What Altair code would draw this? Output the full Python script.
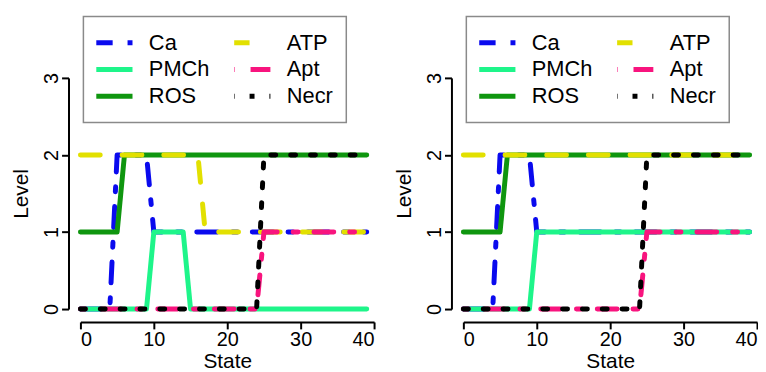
import altair as alt
import pandas as pd

states = list(range(40))

# Left panel series (level per state)
ca_left   = [0,0,0,0,0,2,2,2,2,2,1,1,1,1,1,1,1,1,1,1,1,1,1,1,1,1,1,1,1,1,1,1,1,1,1,1,1,1,1,1]
pmch_left = [0,0,0,0,0,0,0,0,0,0,1,1,1,1,1,0,0,0,0,0,0,0,0,0,0,0,0,0,0,0,0,0,0,0,0,0,0,0,0,0]
ros_left  = [1,1,1,1,1,1,2,2,2,2,2,2,2,2,2,2,2,2,2,2,2,2,2,2,2,2,2,2,2,2,2,2,2,2,2,2,2,2,2,2]
atp_left  = [2,2,2,2,2,2,2,2,2,2,2,2,2,2,2,2,2,1,1,1,1,1,1,1,1,1,1,1,1,1,1,1,1,1,1,1,1,1,1,1]
apt_left  = [0,0,0,0,0,0,0,0,0,0,0,0,0,0,0,0,0,0,0,0,0,0,0,0,0,1,1,1,1,1,1,1,1,1,1,1,1,1,1,1]
necr_left = [0,0,0,0,0,0,0,0,0,0,0,0,0,0,0,0,0,0,0,0,0,0,0,0,0,2,2,2,2,2,2,2,2,2,2,2,2,2,2,2]

# Right panel series
ca_right   = [0,0,0,0,0,2,2,2,2,2,1,1,1,1,1,1,1,1,1,1,1,1,1,1,1,1,1,1,1,1,1,1,1,1,1,1,1,1,1,1]
pmch_right = [0,0,0,0,0,0,0,0,0,0,1,1,1,1,1,1,1,1,1,1,1,1,1,1,1,1,1,1,1,1,1,1,1,1,1,1,1,1,1,1]
ros_right  = [1,1,1,1,1,1,2,2,2,2,2,2,2,2,2,2,2,2,2,2,2,2,2,2,2,2,2,2,2,2,2,2,2,2,2,2,2,2,2,2]
atp_right  = [2,2,2,2,2,2,2,2,2,2,2,2,2,2,2,2,2,2,2,2,2,2,2,2,2,2,2,2,2,2,2,2,2,2,2,2,2,2,2,2]
apt_right  = [0,0,0,0,0,0,0,0,0,0,0,0,0,0,0,0,0,0,0,0,0,0,0,0,0,1,1,1,1,1,1,1,1,1,1,1,1,1,1,1]
necr_right = [0,0,0,0,0,0,0,0,0,0,0,0,0,0,0,0,0,0,0,0,0,0,0,0,0,2,2,2,2,2,2,2,2,2,2,2,2,2,2,2]

series_names = ["Ca", "PMCh", "ROS", "ATP", "Apt", "Necr"]          # draw order = legend order (column-major)
color_map = {"Ca": "#0a0aee", "PMCh": "#1ef58a", "ROS": "#0f960f",
             "ATP": "#e2e000", "Apt": "#f8147e", "Necr": "#000000"}
dash_map = {"Ca": [21, 15, 5, 15], "PMCh": [1, 0], "ROS": [1, 0],
            "ATP": [20, 22], "Apt": [5, 16, 20, 16], "Necr": [5, 15]}

FONT = "Liberation Sans"


def make_df(cols):
    rows = []
    for name, vals in zip(series_names, cols):
        for s, v in zip(states, vals):
            rows.append({"var": name, "state": s, "level": v})
    return pd.DataFrame(rows)


def legend_spec():
    return alt.Legend(
        orient="none", legendX=3, legendY=-62, columns=2, title=None,
        gridAlign="all",
        labelFontSize=22, labelFont=FONT, labelColor="black",
        symbolType="stroke", symbolStrokeWidth=5, symbolSize=1681,
        symbolOffset=-7, clipHeight=27,
        strokeColor="#8a8a8a", fillColor="white", padding=13,
        rowPadding=0, columnPadding=24, labelOffset=14,
    )


def panel(cols):
    df = make_df(cols)
    base = alt.Chart(df)
    color = alt.Color(
        "var:N",
        scale=alt.Scale(domain=series_names, range=[color_map[k] for k in series_names]),
        legend=legend_spec(),
    )
    dash = alt.StrokeDash(
        "var:N",
        scale=alt.Scale(domain=series_names, range=[dash_map[k] for k in series_names]),
        legend=legend_spec(),
    )
    x = alt.X("state:Q", scale=alt.Scale(domain=[0, 40], nice=False, zero=False),
              axis=alt.Axis(title="State", values=[0, 10, 20, 30, 40], offset=13,
                            tickSize=7, labelPadding=1, titlePadding=1))
    y = alt.Y("level:Q", scale=alt.Scale(domain=[0, 3], nice=False),
              axis=alt.Axis(title="Level", values=[0, 1, 2, 3], offset=12,
                            tickSize=7, labelAngle=270, labelPadding=0,
                            labelAlign="center", labelBaseline="bottom",
                            titlePadding=10))
    layers = []
    for name in series_names:
        layers.append(
            base.mark_line(strokeWidth=5, strokeCap="round", strokeJoin="round", clip=False)
            .encode(x=x, y=y, color=color, strokeDash=dash)
            .transform_filter(alt.datum["var"] == name)
        )
    return alt.layer(*layers).properties(width=296, height=233)


left = panel([ca_left, pmch_left, ros_left, atp_left, apt_left, necr_left])
right = panel([ca_right, pmch_right, ros_right, atp_right, apt_right, necr_right])

chart = (
    alt.hconcat(left, right, spacing=19)
    .resolve_scale(color="independent", strokeDash="independent")
    .properties(padding={"left": 3, "top": 6, "right": 0, "bottom": 0})
    .configure_view(stroke=None)
    .configure_axis(
        grid=False, domainColor="black", tickColor="black", domainWidth=2, tickWidth=2,
        labelFont=FONT, titleFont=FONT, labelFontSize=20, titleFontSize=21,
        labelColor="black", titleColor="black", titleFontWeight="normal",
    )
    .configure_legend(strokeWidth=1.5)
)

chart.save("out.html", embed_options={"renderer": "svg", "actions": False})
